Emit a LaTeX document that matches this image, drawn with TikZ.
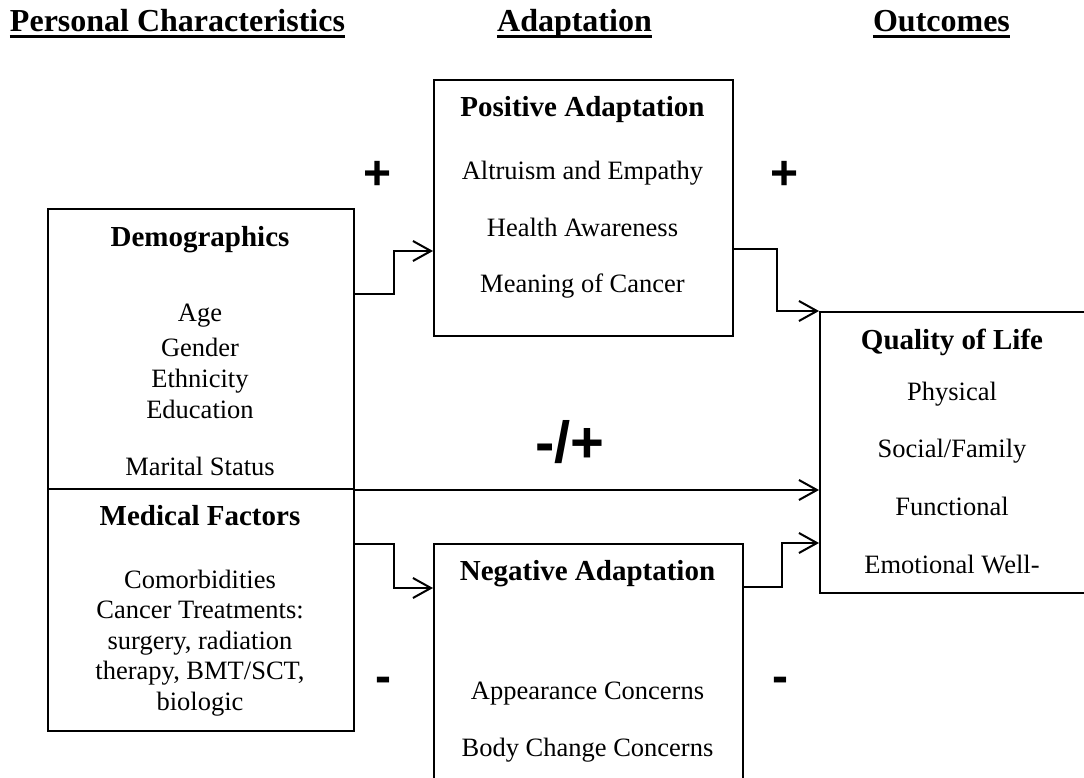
\documentclass[tikz,border=0pt]{standalone}
\usepackage{fontspec}
\setmainfont{Liberation Serif}
\newfontfamily\signfont{Liberation Sans}
\usetikzlibrary{arrows.meta}
\tikzset{
    box/.style={
           rectangle,
           draw=black, line width=2pt,
           anchor=north west,
           inner sep=0pt
           },
    boxtitle/.style={
           anchor=base,
           inner sep=0pt,
           font=\fontsize{29}{34}\selectfont\bfseries
           },
    boxtext/.style={
           anchor=base,
           inner sep=0pt,
           font=\fontsize{26.5}{57}\selectfont
           },
    header/.style={
           anchor=base,
           inner sep=0pt,
           font=\fontsize{32}{38}\selectfont\bfseries
           },
    sign/.style={
           anchor=base,
           inner sep=0pt,
           font=\signfont\fontsize{48}{56}\selectfont\bfseries
           },
    link/.style={
           line width=2pt,
           -{Straight Barb[length=18pt,width=20pt]}
           },
}

\begin{document}
\begin{tikzpicture}[x=1pt,y=-1pt]
             \useasboundingbox (0,0) rectangle (1084,778);
             \clip (0,0) rectangle (1084,778);

             % column headings
             \node[header] (hdrPers) at (177.5,32) {Personal Characteristics};
             \node[header] (hdrAdapt) at (574.5,32) {Adaptation};
             \node[header] (hdrOut) at (941.5,32) {Outcomes};
             \foreach \h in {hdrPers,hdrAdapt,hdrOut}
                \draw[line width=3pt] ([yshift=-5pt]\h.base west) -- ([yshift=-5pt]\h.base east);

             % boxes
             \node[box, minimum width=306, minimum height=280] (DEMOG) at (47,208) {};
             \node[box, minimum width=306, minimum height=242] (MEDIC) at (47,488) {};
             \node[box, minimum width=299, minimum height=256] (POS) at (433,79) {};
             \node[box, minimum width=309, minimum height=300] (NEG) at (433,543) {};
             \node[box, minimum width=267, minimum height=281] (QOL) at (819,311) {};

             % box texts
             \node[boxtitle] (DEMOGhead) at (200,247) {Demographics};
             \node[boxtext] (DEMOGlist) at (200,321.7)
             {\fontsize{26.5}{31}\selectfont
             \begin{tabular}[t]{c}
              Age\\[4pt]
              Gender\\
              Ethnicity\\
              Education\\[26pt]
              Marital Status
             \end{tabular}};

             \node[boxtitle] (MEDIChead) at (200,525) {Medical Factors};
             \node[boxtext] (MEDIClist) at (200,588)
             {\fontsize{26.5}{30.5}\selectfont
             \begin{tabular}[t]{c}
              Comorbidities\\
              Cancer Treatments:\\
              surgery, radiation\\
              therapy, BMT/SCT,\\
              biologic
             \end{tabular}};

             \node[boxtitle] (POShead) at (582.5,116.7) {Positive Adaptation};
             \node[boxtext] (POSlist) at (582.5,180)
             {\fontsize{26.5}{56.5}\selectfont
             \begin{tabular}[t]{c}
              Altruism and Empathy\\
              Health Awareness\\
              Meaning of Cancer
             \end{tabular}};

             \node[boxtitle] (NEGhead) at (587.5,580.7) {Negative Adaptation};
             \node[boxtext] (NEGlist) at (587.5,699)
             {\begin{tabular}[t]{c}
              Appearance Concerns\\
              Body Change Concerns
             \end{tabular}};

             \node[boxtitle] (QOLhead) at (952,349) {Quality of Life};
             \node[boxtext] (QOLlist) at (952,400)
             {\fontsize{26.5}{57.7}\selectfont
             \begin{tabular}[t]{c}
              Physical\\
              Social/Family\\
              Functional\\
              Emotional Well-
             \end{tabular}};

             % signs
             \node[sign] (plusA) at (378,190) {+};
             \node[sign] (plusB) at (785,190) {+};
             \node[sign] (minusA) at (383,692) {-};
             \node[sign] (minusB) at (780,692) {-};
             \node[sign, font=\signfont\fontsize{58}{66}\selectfont\bfseries] (mixed) at (570,462.6) {-/+};

             % connectors
             \draw[link] ([yshift=55pt]DEMOG.east) -- ++(39,0) |- ([yshift=-43pt]POS.west);
             \draw[link] ([yshift=-41pt]POS.east) -- ++(43,0) |- (QOL.north west);
             \draw[link] (DEMOG.south east) -- (QOL.west |- DEMOG.south east);
             \draw[link] ([yshift=66pt]MEDIC.east) -- ++(39,0) |- ([yshift=106pt]NEG.west);
             \draw[link] ([yshift=107pt]NEG.east) -- ++(38,0) |- ([yshift=-90.5pt]QOL.west);

\end{tikzpicture}
\end{document}
